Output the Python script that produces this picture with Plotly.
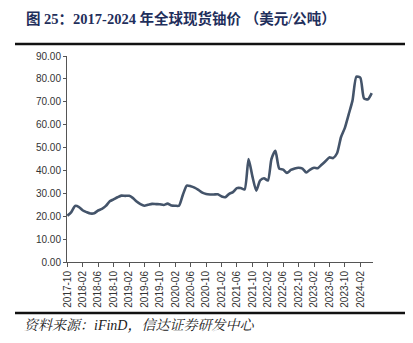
import pandas as pd
import plotly.graph_objects as go

start_month = "2017-10-01"
prices = [20.2, 21.8, 24.5, 24.0, 22.5, 21.8, 21.2, 21.3, 22.5, 23.2,
          24.5, 26.5, 27.4, 28.3, 29.0, 28.9, 28.9, 28.0, 26.4, 25.3,
          24.6, 25.0, 25.4, 25.3, 25.2, 24.9, 25.5, 24.7, 24.6, 24.6,
          29.5, 33.4, 33.1, 32.5, 31.5, 30.3, 29.7, 29.5, 29.5, 29.6,
          28.6, 28.3, 29.8, 30.5, 32.3, 32.3, 31.7, 45.0, 37.5, 31.2,
          35.6, 36.6, 35.6, 45.0, 48.6, 40.8, 40.4, 38.9, 40.2, 40.9,
          41.2, 40.8, 39.1, 40.4, 41.2, 41.0, 42.5, 44.0, 45.7, 45.4,
          47.5, 54.5, 58.5, 64.5, 70.5, 81.0, 80.5, 71.5, 71.1, 73.8]
dates = pd.date_range(start_month, periods=len(prices), freq="MS")

tick_dates = pd.date_range(start_month, "2024-02-01", freq="4MS")
tick_text = [d.strftime("%Y-%m") for d in tick_dates]
y_ticks = [i * 10 for i in range(10)]
y_text = [f"{v:.2f}" for v in y_ticks]

title = "图 25：2017-2024 年全球现货铀价 （美元/公吨）"
source = "资料来源：iFinD，信达证券研发中心"

fig = go.Figure()
fig.add_trace(go.Scatter(
    x=dates, y=prices, mode="lines",
    line=dict(color="#44546A", width=2.6, shape="spline", smoothing=0.6),
    hoverinfo="skip", showlegend=False))

W, H = 413, 343
L, R, T, B = 67, 40, 56, 81
pw, ph = W - L - R, H - T - B

def px(x):
    return (x - L) / pw

def py(y):
    return (H - B - y) / ph

fig.update_layout(
    width=W, height=H,
    margin=dict(l=L, r=R, t=T, b=B),
    paper_bgcolor="white", plot_bgcolor="white",
    font=dict(family="Liberation Sans, Arial, sans-serif", size=10, color="#333333"),
    xaxis=dict(
        type="date",
        range=[dates[0] - pd.Timedelta(days=3), dates[-1] + pd.Timedelta(days=10)],
        tickvals=tick_dates, ticktext=tick_text, tickangle=-90,
        ticks="outside", ticklen=4, tickcolor="#555555",
        showline=True, linecolor="#555555", linewidth=1,
        showgrid=False, zeroline=False,
        tickfont=dict(size=10, color="#333333")),
    yaxis=dict(
        range=[0, 90], tickvals=y_ticks, ticktext=y_text,
        ticks="outside", ticklen=3, tickcolor="#555555",
        showline=True, linecolor="#555555", linewidth=1,
        showgrid=False, zeroline=False,
        tickfont=dict(size=10, color="#333333")),
    annotations=[
        dict(text="<b>" + title + "</b>", xref="paper", yref="paper",
             x=px(24), y=py(18), xanchor="left", yanchor="middle",
             showarrow=False,
             font=dict(family="Liberation Serif, Noto Sans CJK SC, serif",
                       size=14.5, color="#1F2F5C")),
        dict(text="<i>" + source + "</i>", xref="paper", yref="paper",
             x=px(22), y=py(325), xanchor="left", yanchor="middle",
             showarrow=False,
             font=dict(family="Liberation Serif, Noto Serif CJK SC, Noto Sans CJK SC, serif",
                       size=14, color="#222222")),
    ],
    shapes=[
        dict(type="line", xref="paper", yref="paper",
             x0=px(15), x1=px(405), y0=py(44), y1=py(44),
             line=dict(color="#111111", width=2.5)),
        dict(type="line", xref="paper", yref="paper",
             x0=px(15), x1=px(405), y0=py(313), y1=py(313),
             line=dict(color="#111111", width=2.5)),
    ],
)

fig.write_html("out.html")
